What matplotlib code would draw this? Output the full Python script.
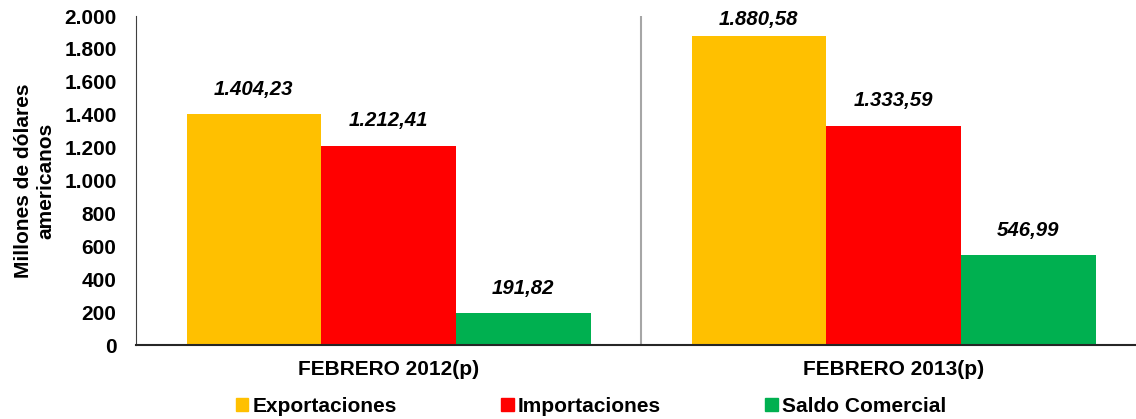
import matplotlib
matplotlib.use("Agg")
import matplotlib.pyplot as plt
import numpy as np
from matplotlib.patches import Patch

categories = ["FEBRERO 2012(p)", "FEBRERO 2013(p)"]
series_names = ["Exportaciones", "Importaciones", "Saldo Comercial"]
exportaciones = [1404.23, 1880.58]
importaciones = [1212.41, 1333.59]
saldo = [191.82, 546.99]
colors = ["#FFC000", "#FF0000", "#00B050"]
yticks = [0, 200, 400, 600, 800, 1000, 1200, 1400, 1600, 1800, 2000]

plt.rcParams['font.family'] = ['Liberation Sans', 'DejaVu Sans']
FS = 15

W, H = 1136, 419
fig = plt.figure(figsize=(W/100, H/100), dpi=100)
left, right, top, bottom = 136, 1146, 16, 345
ax = fig.add_axes([left/W, 1-bottom/H, (right-left)/W, (bottom-top)/H])

x = np.arange(len(categories))
bw = 0.8/3
data = [exportaciones, importaciones, saldo]
ymax = 2000
plot_h = bottom - top

def fmt(v):
    s = f"{v:,.2f}"
    return s.replace(",", "X").replace(".", ",").replace("X", ".")

for i, (vals, c, name) in enumerate(zip(data, colors, series_names)):
    pos = x + (i-1)*bw
    ax.bar(pos, vals, width=bw, color=c, label=name, zorder=2)
    for p, v in zip(pos, vals):
        bar_top_px = plot_h * (1 - v/ymax)          # distance from axes top
        center_px = max(bar_top_px - 25, 4)         # keep label inside plot area
        off_pt = (bar_top_px - center_px) * 0.72
        ax.annotate(fmt(v), (p, v), xytext=(0, off_pt), textcoords="offset points",
                    ha="center", va="center", fontsize=14.7, fontweight="bold",
                    fontstyle="italic")

ax.set_xlim(-0.5, 1.5)
ax.set_ylim(0, ymax)
ax.set_yticks(yticks)
ax.set_yticklabels([fmt(v).split(",")[0] for v in yticks], fontsize=FS, fontweight="bold")
ax.set_xticks(x)
ax.set_xticklabels(categories, fontsize=FS, fontweight="bold")
ax.tick_params(axis="y", length=0, pad=14)
ax.tick_params(axis="x", length=0, pad=11)
ax.axvline(0.5, color="#A6A6A6", lw=1.5, zorder=1)
for s in ["top", "right"]:
    ax.spines[s].set_visible(False)
ax.spines["left"].set_color("#404040")
ax.spines["bottom"].set_color("#262626")
ax.spines["bottom"].set_linewidth(1.5)
ax.set_ylabel("Millones de dólares\namericanos", fontsize=FS, fontweight="bold",
              labelpad=6, linespacing=1.25)

handles = [Patch(color=c, label=n) for c, n in zip(colors, series_names)]
fig.legend(handles=handles, loc="center", bbox_to_anchor=(591/W, 1-406/H), ncol=3,
           frameon=False, prop={"size": FS, "weight": "bold"},
           handlelength=0.6, handleheight=0.6, handletextpad=0.2, columnspacing=5.0)

fig.savefig("out.png", dpi=100)
